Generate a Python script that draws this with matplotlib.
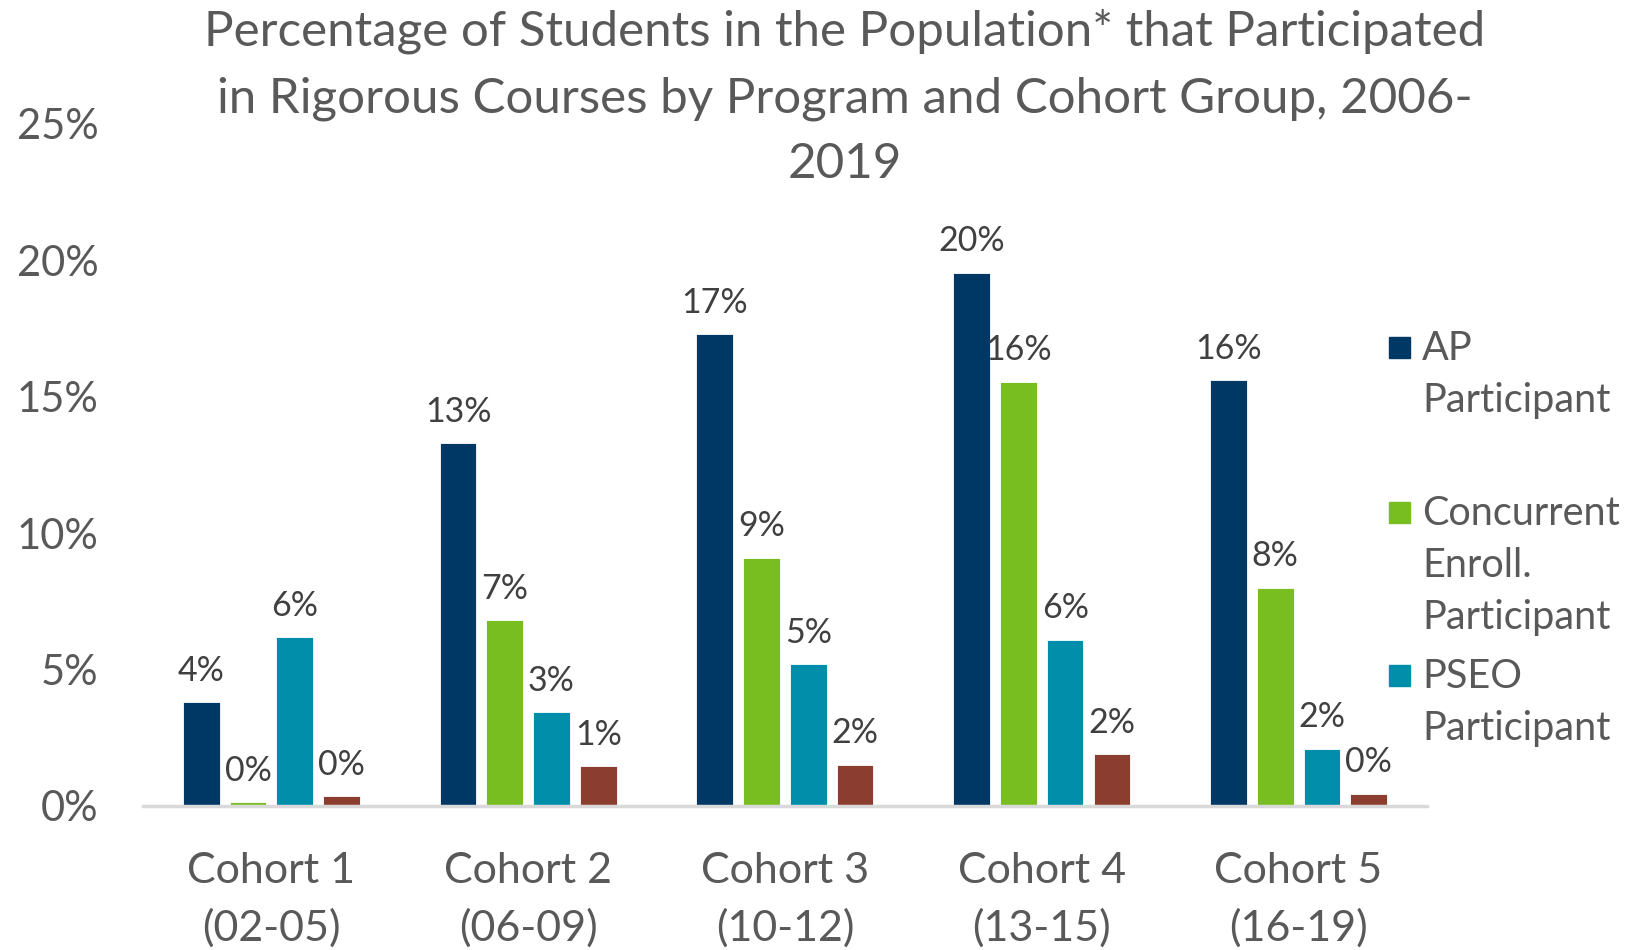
import matplotlib
matplotlib.use("Agg")
import matplotlib.pyplot as plt
import numpy as np
from matplotlib.patches import Rectangle
from matplotlib.ticker import FuncFormatter

# ---------------- data ----------------
categories = ["Cohort 1\n(02-05)", "Cohort 2\n(06-09)", "Cohort 3\n(10-12)",
              "Cohort 4\n(13-15)", "Cohort 5\n(16-19)"]
series_names = ["AP\nParticipant", "Concurrent\nEnroll.\nParticipant", "PSEO\nParticipant", "Other"]
ap_vals = [3.8, 13.3, 17.3, 19.55, 15.6]
ce_vals = [0.15, 6.8, 9.1, 15.55, 8.0]
pseo_vals = [6.2, 3.45, 5.2, 6.1, 2.1]
other_vals = [0.35, 1.47, 1.52, 1.9, 0.45]
yticks = [0, 5, 10, 15, 20, 25]
title = ("Percentage of Students in the Population* that Participated\n"
         "in Rigorous Courses by Program and Cohort Group, 2006-\n2019")

colors = ["#003865", "#78BE20", "#008EAA", "#8B3E2F"]
text_color = "#595959"
font = ["Lato", "DejaVu Sans"]
plt.rcParams["font.family"] = font

fig = plt.figure(figsize=(16.47, 9.5), dpi=100)
ax = fig.add_axes([0.0868, 0.1516, 0.7796, 0.7179])

series = [ap_vals, ce_vals, pseo_vals, other_vals]
x = np.arange(len(categories))
pitch = 0.182
width = 0.143
for i, vals in enumerate(series):
    offs = (i - 1.5) * pitch
    bars = ax.bar(x + offs, vals, width=width, color=colors[i],
                  edgecolor="white", linewidth=0.6, zorder=3)
    for b, v in zip(bars, vals):
        ax.annotate(f"{v:.0f}%", (b.get_x() + b.get_width() / 2, v),
                    xytext=(0, 11), textcoords="offset points",
                    ha="center", va="bottom", fontsize=24.5, color="#404040")

ax.set_xlim(-0.5, len(categories) - 0.5)
ax.set_ylim(0, 25)
ax.set_yticks(yticks)
ax.yaxis.set_major_formatter(FuncFormatter(lambda v, p: f"{v:.0f}%"))
ax.set_xticks(x)
ax.set_xticklabels(categories, linespacing=1.56)
ax.tick_params(axis="y", length=0, pad=32, labelsize=30, labelcolor=text_color)
ax.tick_params(axis="x", length=0, pad=33, labelsize=31, labelcolor=text_color)
for s in ["top", "right", "left"]:
    ax.spines[s].set_visible(False)
ax.spines["bottom"].set_color("#D9D9D9")
ax.spines["bottom"].set_linewidth(2.5)
ax.spines["bottom"].set_zorder(4)

fig.text(845 / 1647, 1 - 9 / 950, title, ha="center", va="top",
         fontsize=35.5, color=text_color, linespacing=1.6,
         transform=fig.transFigure)

# legend (first three series)
leg_y = [347, 512, 675]
for i in range(3):
    yc = leg_y[i]
    fig.add_artist(Rectangle((1389 / 1647, 1 - (yc + 10.5) / 950), 21 / 1647, 21 / 950,
                             color=colors[i], transform=fig.transFigure))
    fig.text(1422 / 1647, 1 - (yc - 17) / 950, series_names[i], ha="left", va="top",
             fontsize=28.5, color=text_color, linespacing=1.5)

fig.savefig("out.png", dpi=100)
